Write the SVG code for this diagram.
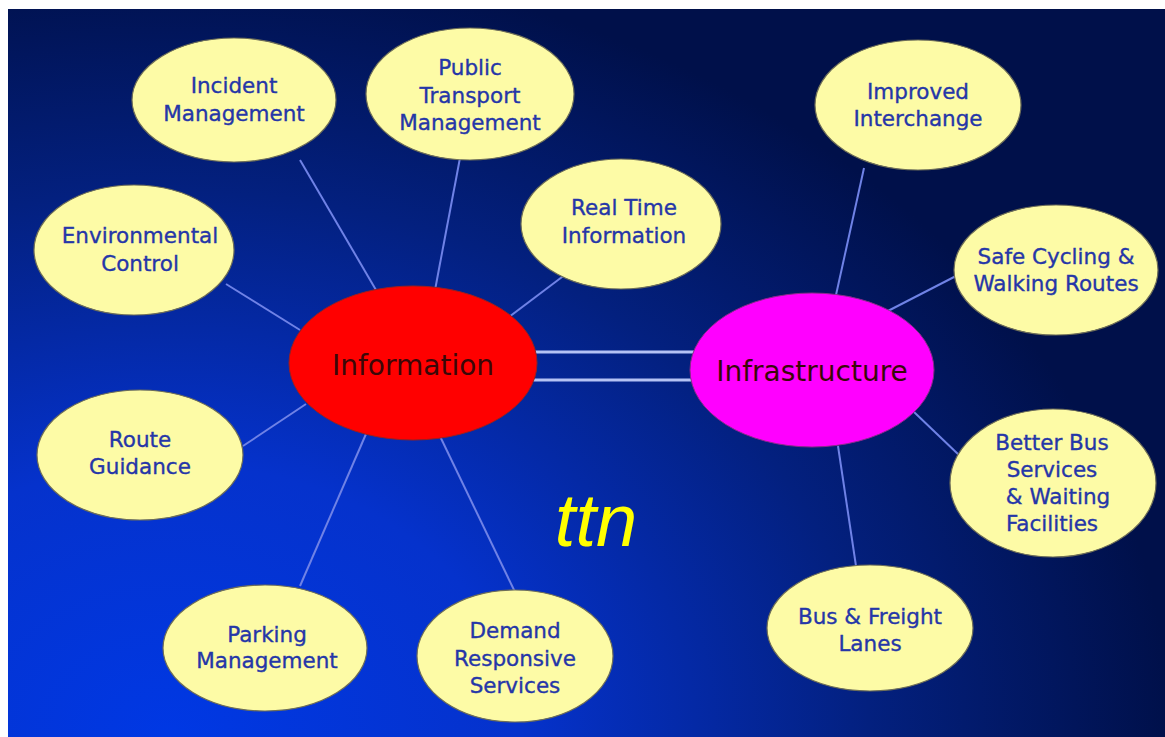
<svg xmlns="http://www.w3.org/2000/svg" width="1165" height="737" viewBox="0 0 1165 737">
  <defs>
    <radialGradient id="bg" gradientUnits="userSpaceOnUse" cx="0" cy="0" r="1000" gradientTransform="translate(170 737) scale(1 0.78)">
      <stop offset="0" stop-color="#0038e4"/>
      <stop offset="0.35" stop-color="#0532cc"/>
      <stop offset="0.7" stop-color="#03207f"/>
      <stop offset="1" stop-color="#00104a"/>
    </radialGradient>
  </defs>
  <style>
    .leaf { fill: #fdfba6; stroke: #6e6e58; stroke-width: 1.2; }
    .lbl { font-family: "DejaVu Sans", Verdana, sans-serif; font-size: 21.5px; fill: #2536a8; stroke: #2536a8; stroke-width: 0.35; text-anchor: middle; }
    .hub { font-family: "DejaVu Sans", Verdana, sans-serif; font-size: 28px; fill: #3a0808; text-anchor: middle; }
    .link { stroke: #6f82e6; stroke-width: 2; fill: none; }
    .bridge { stroke: #b4c2f4; stroke-width: 3; fill: none; }
  </style>

  <!-- page margin and slide background -->
  <rect x="0" y="0" width="1165" height="737" fill="#ffffff"/>
  <rect x="8" y="9" width="1157" height="728" fill="url(#bg)"/>

  <g id="connectors">
    <line class="link" x1="300" y1="160" x2="376" y2="290"/>
    <line class="link" x1="460" y1="158" x2="435" y2="290"/>
    <line class="link" x1="566" y1="274" x2="505" y2="320"/>
    <line class="link" x1="226" y1="284" x2="300" y2="330"/>
    <line class="link" x1="243" y1="446" x2="306" y2="404"/>
    <line class="link" x1="300" y1="586" x2="366" y2="434"/>
    <line class="link" x1="515" y1="592" x2="437" y2="430"/>
    <line class="link" x1="864" y1="168" x2="836" y2="295"/>
    <line class="link" x1="956" y1="276" x2="884" y2="313"/>
    <line class="link" x1="960" y1="456" x2="914" y2="412"/>
    <line class="link" x1="856" y1="566" x2="838" y2="446"/>
    <line class="bridge" x1="532" y1="352" x2="694" y2="352"/>
    <line class="bridge" x1="532" y1="380" x2="694" y2="380"/>
  </g>

  <g id="information">
    <ellipse cx="413" cy="363" rx="124" ry="77" fill="#ff0000" stroke="#9a2020" stroke-width="1"/>
    <text class="hub" x="413" y="375">Information</text>
  </g>
  <g id="infrastructure">
    <ellipse cx="812" cy="370" rx="122" ry="77" fill="#ff00ff" stroke="#8a2a8a" stroke-width="1"/>
    <text class="hub" x="812" y="381">Infrastructure</text>
  </g>

  <g id="incident-management">
    <ellipse class="leaf" cx="234" cy="100" rx="102" ry="62"/>
    <text class="lbl" x="234" y="93">Incident</text>
    <text class="lbl" x="234" y="121">Management</text>
  </g>
  <g id="public-transport-management">
    <ellipse class="leaf" cx="470" cy="94" rx="104" ry="66"/>
    <text class="lbl" x="470" y="75">Public</text>
    <text class="lbl" x="470" y="103">Transport</text>
    <text class="lbl" x="470" y="130">Management</text>
  </g>
  <g id="real-time-information">
    <ellipse class="leaf" cx="621" cy="224" rx="100" ry="65"/>
    <text class="lbl" x="624" y="215">Real Time</text>
    <text class="lbl" x="624" y="243">Information</text>
  </g>
  <g id="environmental-control">
    <ellipse class="leaf" cx="134" cy="250" rx="100" ry="65"/>
    <text class="lbl" x="140" y="243">Environmental</text>
    <text class="lbl" x="140" y="271">Control</text>
  </g>
  <g id="route-guidance">
    <ellipse class="leaf" cx="140" cy="455" rx="103" ry="65"/>
    <text class="lbl" x="140" y="447">Route</text>
    <text class="lbl" x="140" y="474">Guidance</text>
  </g>
  <g id="parking-management">
    <ellipse class="leaf" cx="265" cy="648" rx="102" ry="63"/>
    <text class="lbl" x="267" y="642">Parking</text>
    <text class="lbl" x="267" y="668">Management</text>
  </g>
  <g id="demand-responsive-services">
    <ellipse class="leaf" cx="515" cy="656" rx="98" ry="66"/>
    <text class="lbl" x="515" y="638">Demand</text>
    <text class="lbl" x="515" y="666">Responsive</text>
    <text class="lbl" x="515" y="693">Services</text>
  </g>
  <g id="improved-interchange">
    <ellipse class="leaf" cx="918" cy="105" rx="103" ry="65"/>
    <text class="lbl" x="918" y="99">Improved</text>
    <text class="lbl" x="918" y="126">Interchange</text>
  </g>
  <g id="safe-cycling-walking-routes">
    <ellipse class="leaf" cx="1056" cy="270" rx="102" ry="65"/>
    <text class="lbl" x="1056" y="264">Safe Cycling &amp;</text>
    <text class="lbl" x="1056" y="291">Walking Routes</text>
  </g>
  <g id="better-bus-services">
    <ellipse class="leaf" cx="1053" cy="483" rx="103" ry="74"/>
    <text class="lbl" x="1052" y="450">Better Bus</text>
    <text class="lbl" x="1052" y="477">Services</text>
    <text class="lbl" x="1058" y="504">&amp; Waiting</text>
    <text class="lbl" x="1052" y="531">Facilities</text>
  </g>
  <g id="bus-freight-lanes">
    <ellipse class="leaf" cx="870" cy="628" rx="103" ry="63"/>
    <text class="lbl" x="870" y="624">Bus &amp; Freight</text>
    <text class="lbl" x="870" y="651">Lanes</text>
  </g>

  <text x="596" y="546" font-family="'Liberation Sans', Arial, sans-serif" font-style="italic" font-size="74" fill="#ffff00" text-anchor="middle">ttn</text>
</svg>
